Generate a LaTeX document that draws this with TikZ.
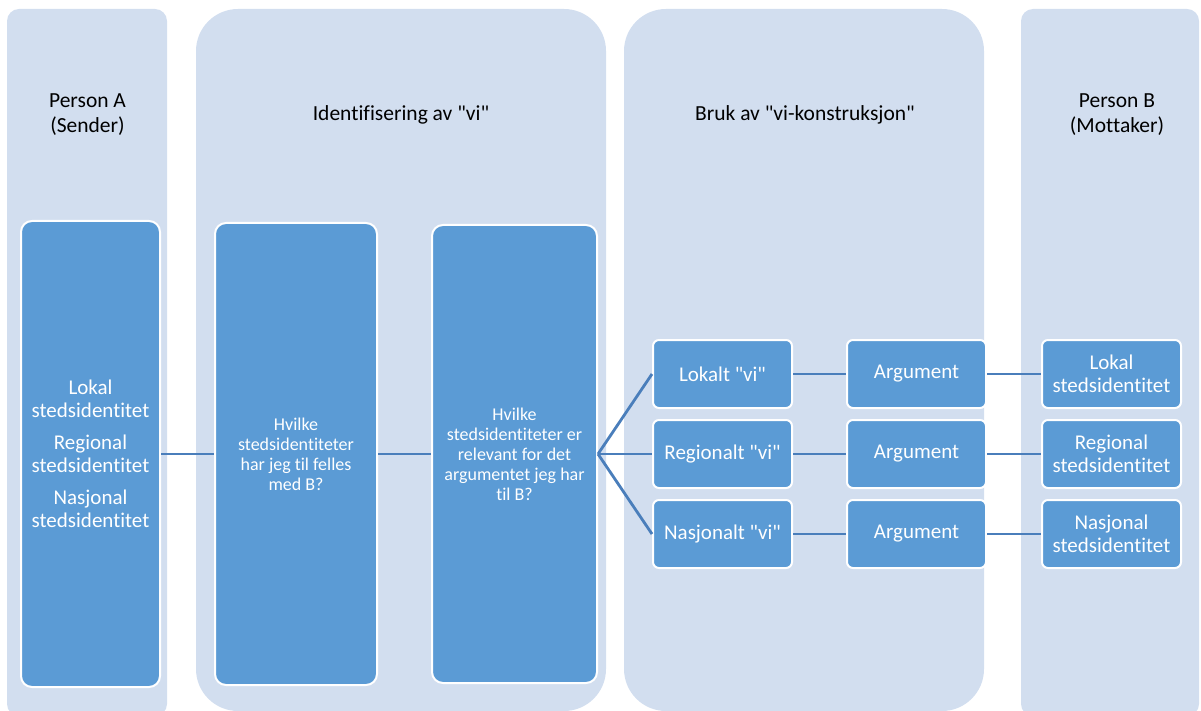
\documentclass[tikz,border=0pt]{standalone}
\usepackage{fontspec}
\setmainfont{Carlito}[Ligatures={TeXOff,CommonOff}]
\definecolor{colbg}{RGB}{210,222,239}
\definecolor{boxfill}{RGB}{91,155,213}
\definecolor{linec}{RGB}{74,126,187}
\begin{document}
\begin{tikzpicture}[x=1pt,y=-1pt,
  colbg/.style={fill=colbg},
  header/.style={align=center,text=black,font=\fontsize{21.5}{25}\selectfont},
  bigbox/.style={draw=white,line width=2pt,fill=boxfill,rounded corners=11pt,text=white,align=center},
  smallbox/.style={draw=white,line width=2pt,fill=boxfill,rounded corners=6pt,text=white,align=center,
    minimum width=139pt,minimum height=68pt,inner sep=0pt},
  bigtxt/.style={font=\fontsize{21}{23.5}\selectfont},
  qtxt/.style={font=\fontsize{18}{20}\selectfont},
  conn/.style={draw=linec,line width=2.8pt}]
\useasboundingbox (0,0) rectangle (1201,711);
% columns
\fill[colbg,rounded corners=12pt] (7,9) rectangle (167,716);
\fill[colbg,rounded corners=42pt] (196,9) rectangle (606,711);
\fill[colbg,rounded corners=42pt] (624,9) rectangle (984,711);
\fill[colbg,rounded corners=12pt] (1021,9) rectangle (1199,716);
% headers
\node[header] (hA) at (87.5,115) {Person A\\(Sender)};
\node[header] (hI) at (401,115) {Identifisering av "vi"};
\node[header] (hK) at (805,115) {Bruk av "vi-konstruksjon"};
\node[header] (hB) at (1117,115) {Person B\\(Mottaker)};
% big boxes
\node[bigbox,bigtxt,minimum width=139pt,minimum height=466pt] (a) at (90.5,454)
  {Lokal\\stedsidentitet\\[8pt]Regional\\stedsidentitet\\[8pt]Nasjonal\\stedsidentitet};
\node[bigbox,qtxt,minimum width=162pt,minimum height=462pt] (h1) at (296,454)
  {Hvilke\\stedsidentiteter\\har jeg til felles\\med B?};
\node[bigbox,qtxt,minimum width=165pt,minimum height=458pt] (h2) at (514.5,454)
  {Hvilke\\stedsidentiteter er\\relevant for det\\argumentet jeg har\\til B?};
% small boxes
\node[smallbox,bigtxt] (l1) at (722.5,374) {Lokalt "vi"};
\node[smallbox,bigtxt] (l2) at (722.5,454) {Regionalt "vi"};
\node[smallbox,bigtxt] (l3) at (722.5,534) {Nasjonalt "vi"};
\node[smallbox,bigtxt] (g1) at (916.5,374) {Argument};
\node[smallbox,bigtxt] (g2) at (916.5,454) {Argument};
\node[smallbox,bigtxt] (g3) at (916.5,534) {Argument};
\node[smallbox,bigtxt] (r1) at (1111.5,374) {Lokal\\stedsidentitet};
\node[smallbox,bigtxt] (r2) at (1111.5,454) {Regional\\stedsidentitet};
\node[smallbox,bigtxt] (r3) at (1111.5,534) {Nasjonal\\stedsidentitet};
% connectors
\draw[conn] (a.east) -- (h1.west);
\draw[conn] (h1.east) -- (h2.west);
\draw[conn] (h2.east) -- (l1.west);
\draw[conn] (h2.east) -- (l2.west);
\draw[conn] (h2.east) -- (l3.west);
\draw[conn] (l1.east) -- (g1.west);
\draw[conn] (l2.east) -- (g2.west);
\draw[conn] (l3.east) -- (g3.west);
\draw[conn] (g1.east) -- (r1.west);
\draw[conn] (g2.east) -- (r2.west);
\draw[conn] (g3.east) -- (r3.west);
\end{tikzpicture}
\end{document}
